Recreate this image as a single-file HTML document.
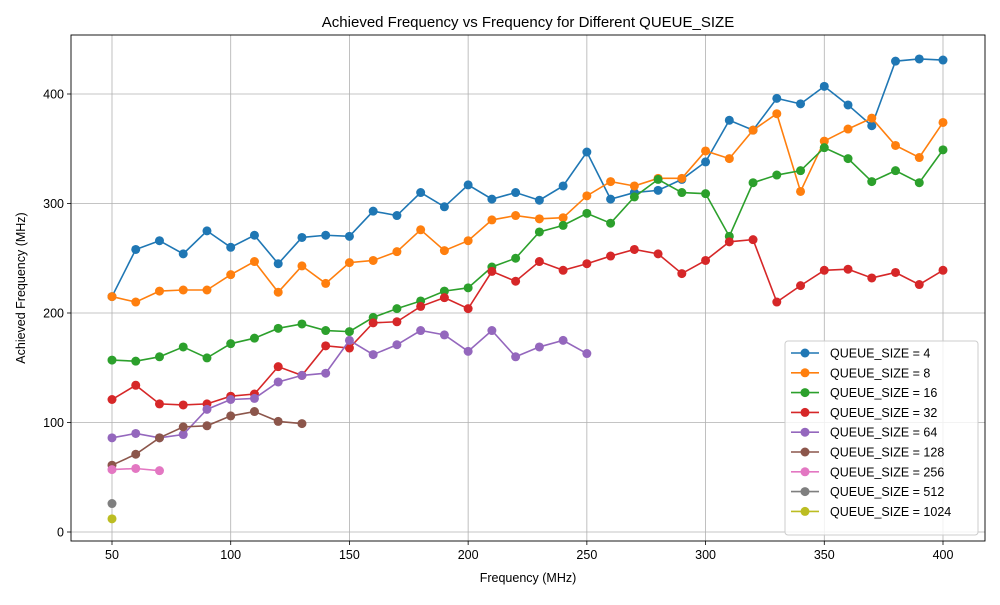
<!DOCTYPE html>
<html><head><meta charset="utf-8"><style>
body{margin:0;background:#fff;font-family:"Liberation Sans","DejaVu Sans",sans-serif}
</style></head><body>
<svg id="c" width="1000" height="600" xmlns="http://www.w3.org/2000/svg"></svg>
<script>
const freqs=[50,60,70,80,90,100,110,120,130,140,150,160,170,180,190,200,210,220,230,240,250,260,270,280,290,300,310,320,330,340,350,360,370,380,390,400];
const q4=[215,258,266,254,275,260,271,245,269,271,270,293,289,310,297,317,304,310,303,316,347,304,310,312,322,338,376,367,396,391,407,390,371,430,432,431];
const q8=[215,210,220,221,221,235,247,219,243,227,246,248,256,276,257,266,285,289,286,287,307,320,316,323,323,348,341,367,382,311,357,368,378,353,342,374];
const q16=[157,156,160,169,159,172,177,186,190,184,183,196,204,211,220,223,242,250,274,280,291,282,306,322,310,309,270,319,326,330,351,341,320,330,319,349];
const q32=[121,134,117,116,117,124,126,151,143,170,168,191,192,206,214,204,238,229,247,239,245,252,258,254,236,248,265,267,210,225,239,240,232,237,226,239];
const q64=[86,90,86,89,112,121,122,137,143,145,175,162,171,184,180,165,184,160,169,175,163];
const q128=[61,71,86,96,97,106,110,101,99];
const q256=[57,58,56];
const q512=[26];
const q1024=[12];
const seriesLabels=["QUEUE_SIZE = 4","QUEUE_SIZE = 8","QUEUE_SIZE = 16","QUEUE_SIZE = 32","QUEUE_SIZE = 64","QUEUE_SIZE = 128","QUEUE_SIZE = 256","QUEUE_SIZE = 512","QUEUE_SIZE = 1024"];
const xTicks=[50,100,150,200,250,300,350,400];
const yTicks=[0,100,200,300,400];

const colors=["#1f77b4","#ff7f0e","#2ca02c","#d62728","#9467bd","#8c564b","#e377c2","#7f7f7f","#bcbd22"];
const all=[q4,q8,q16,q32,q64,q128,q256,q512,q1024];
const NS="http://www.w3.org/2000/svg";
const svg=document.getElementById('c');
const L=71,R=985,T=35,B=541;
const xs=v=>112+(v-50)*(943-112)/350;
const ys=v=>532-v*(532-94)/400;
function mk(tag,attrs,parent){const e=document.createElementNS(NS,tag);for(const k in attrs)e.setAttribute(k,attrs[k]);(parent||svg).appendChild(e);return e;}
const grid=mk('g',{});


xTicks.forEach(t=>{mk('line',{x1:xs(t),x2:xs(t),y1:T,y2:B,stroke:'#b0b0b0','stroke-width':0.8},grid);
 mk('line',{x1:xs(t),x2:xs(t),y1:B,y2:B+4,stroke:'#000','stroke-width':0.8},grid);
 const tx=mk('text',{x:xs(t),y:B+18,'text-anchor':'middle','font-size':12.5},grid);tx.textContent=t;
 
 });
yTicks.forEach(t=>{mk('line',{x1:L,x2:R,y1:ys(t),y2:ys(t),stroke:'#b0b0b0','stroke-width':0.8},grid);
 mk('line',{x1:L-4,x2:L,y1:ys(t),y2:ys(t),stroke:'#000','stroke-width':0.8},grid);
 const tx=mk('text',{x:L-7,y:ys(t)+4.5,'text-anchor':'end','font-size':12.5},grid);tx.textContent=t;
 
 });
all.forEach((d,i)=>{
 const g=mk('g',{});
 
 
 const pts=d.map((v,j)=>xs(freqs[j])+','+ys(v)).join(' ');
 if(d.length>1)mk('polyline',{points:pts,fill:'none',stroke:colors[i],'stroke-width':1.6},g);
 d.forEach((v,j)=>{const c=mk('circle',{cx:xs(freqs[j]),cy:ys(v),r:4.5,fill:colors[i]},g);
  
  });
});
mk('rect',{x:L,y:T,width:R-L,height:B-T,fill:'none',stroke:'#000','stroke-width':0.9});
const title=mk('text',{x:528,y:27,'text-anchor':'middle','font-size':15});title.textContent='Achieved Frequency vs Frequency for Different QUEUE_SIZE';


const xt=mk('text',{x:528,y:582,'text-anchor':'middle','font-size':12.5});xt.textContent='Frequency (MHz)';


const yt=mk('text',{x:0,y:0,'text-anchor':'middle','font-size':12.5,transform:'translate(25,288) rotate(-90)'});yt.textContent='Achieved Frequency (MHz)';


const lg=mk('g',{});


mk('rect',{x:785,y:341,width:193,height:194,rx:3,fill:'#fff','fill-opacity':0.8,stroke:'#ccc'},lg);
seriesLabels.forEach((s,i)=>{const y=353+i*19.8;
 const e=mk('g',{},lg);
 
 
 mk('line',{x1:791,x2:819,y1:y,y2:y,stroke:colors[i],'stroke-width':1.6},e);
 mk('circle',{cx:805,cy:y,r:4.5,fill:colors[i]},e);
 const t=mk('text',{x:830,y:y+4.5,'font-size':12.5},e);t.textContent=s;});
</script>
</body></html>
